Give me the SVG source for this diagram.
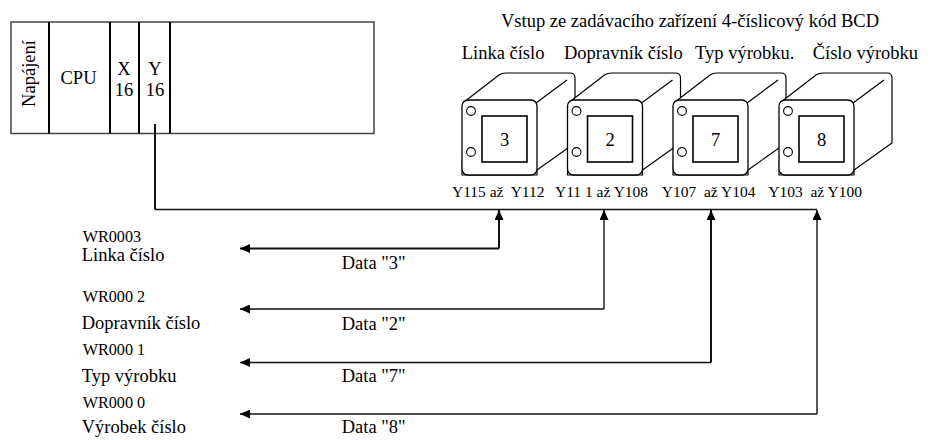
<svg xmlns="http://www.w3.org/2000/svg" width="933" height="440" viewBox="0 0 933 440">
  <style>
    text { font-family: "Liberation Serif", "Times New Roman", serif; fill: #000; }
    .t { font-size: 18.5px; }
    .wr { font-size: 16.2px; }
    .addr { font-size: 15.5px; }
    .digit { font-size: 18.5px; text-anchor: middle; }
    .frame { fill: #fff; stroke: #444; stroke-width: 1.5; }
    .div { stroke: #000; stroke-width: 2; }
    .body { fill: #fff; stroke: #000; stroke-width: 1.2; stroke-linejoin: round; }
    .face { fill: #fff; stroke: #000; stroke-width: 1.3; }
    .win { fill: #fff; stroke: #000; stroke-width: 1.6; }
    .hole { fill: #fff; stroke: #000; stroke-width: 1.1; }
    .wire { fill: none; stroke: #111; stroke-width: 1.4; }
    .wire.heavy { stroke-width: 2; }
  </style>
  <defs>
    <marker id="arrow" viewBox="0 0 10 9" refX="10" refY="4.5" markerWidth="10" markerHeight="9" markerUnits="userSpaceOnUse" orient="auto">
      <path d="M0,0 L10,4.5 L0,9 Z" fill="#000"/>
    </marker>
    <!-- thumbwheel switch body: back silhouette, edge line, front face, window and holes -->
    <g id="switch">
      <path class="body" d="M2,102 L37,75 Q40,73 44,73 L108,73 Q113,73 113,78 L113,143 L75,170 L75,175 L0,175 Z"/>
      <line x1="74" y1="103" x2="105" y2="80" stroke="#000" stroke-width="1.2"/>
      <rect class="face" x="0" y="100" width="75" height="75" rx="6"/>
      <rect class="win" x="20" y="116" width="45" height="46"/>
      <circle class="hole" cx="9" cy="111" r="4.4"/>
      <circle class="hole" cx="9" cy="152" r="4.4"/>
    </g>
  </defs>

  <!-- PLC rack -->
  <g id="plc">
    <rect class="frame" x="11" y="22" width="363" height="111.5"/>
    <line class="div" x1="49" y1="22" x2="49" y2="133.5"/>
    <line class="div" x1="110" y1="22" x2="110" y2="133.5"/>
    <line class="div" x1="139" y1="22" x2="139" y2="133.5"/>
    <line class="div" x1="170" y1="22" x2="170" y2="133.5"/>
    <text class="t" transform="translate(35,73.5) rotate(-90)" text-anchor="middle">Napájení</text>
    <text class="t" x="78.5" y="84" text-anchor="middle">CPU</text>
    <text class="t" x="124" y="75" text-anchor="middle">X</text>
    <text class="t" x="124" y="96" text-anchor="middle">16</text>
    <text class="t" x="155" y="75" text-anchor="middle">Y</text>
    <text class="t" x="155" y="96" text-anchor="middle">16</text>
  </g>

  <!-- input device header -->
  <g id="header">
    <text class="t" x="690" y="27" text-anchor="middle">Vstup ze zadávacího zařízení 4-číslicový kód BCD</text>
    <text class="t" x="461.7" y="59">Linka číslo</text>
    <text class="t" x="564" y="59">Dopravník číslo</text>
    <text class="t" x="695" y="59">Typ výrobku.</text>
    <text class="t" x="812.7" y="59">Číslo výrobku</text>
  </g>

  <!-- thumbwheel switches -->
  <g id="sw-line">
    <use href="#switch" transform="translate(462,0)"/>
    <text class="digit" x="504.5" y="146">3</text>
    <text class="addr" x="452" y="197" xml:space="preserve">Y115 až  Y112</text>
  </g>
  <g id="sw-conveyor">
    <use href="#switch" transform="translate(567.5,0)"/>
    <text class="digit" x="610" y="146">2</text>
    <text class="addr" x="555" y="197" xml:space="preserve">Y11 1 až Y108</text>
  </g>
  <g id="sw-type">
    <use href="#switch" transform="translate(673,0)"/>
    <text class="digit" x="715.5" y="146">7</text>
    <text class="addr" x="661.7" y="197" xml:space="preserve">Y107  až Y104</text>
  </g>
  <g id="sw-product">
    <use href="#switch" transform="translate(779,0)"/>
    <text class="digit" x="821.5" y="146">8</text>
    <text class="addr" x="768.3" y="197" xml:space="preserve">Y103  až Y100</text>
  </g>

  <!-- data registers -->
  <g id="wr3">
    <text class="wr" x="82.7" y="241.5">WR0003</text>
    <text class="t" x="81.7" y="261">Linka číslo</text>
  </g>
  <g id="wr2">
    <text class="wr" x="82.7" y="301.7">WR000 2</text>
    <text class="t" x="81.7" y="329.3">Dopravník číslo</text>
  </g>
  <g id="wr1">
    <text class="wr" x="82.7" y="355">WR000 1</text>
    <text class="t" x="81.7" y="381.7">Typ výrobku</text>
  </g>
  <g id="wr0">
    <text class="wr" x="82.7" y="408.3">WR000 0</text>
    <text class="t" x="81.7" y="433.3">Výrobek číslo</text>
  </g>

  <!-- connectors -->
  <g id="connectors">
    <path class="wire heavy" d="M155,124 V209.5"/>
    <path class="wire" d="M155,209.5 H817"/>

    <path class="wire heavy" d="M499,248.5 V210" marker-end="url(#arrow)"/>
    <path class="wire heavy" d="M499,248.5 H240" marker-end="url(#arrow)"/>

    <path class="wire" d="M604,309 V210" marker-end="url(#arrow)"/>
    <path class="wire" d="M604,309 H240" marker-end="url(#arrow)"/>

    <path class="wire heavy" d="M711,362.5 V210" marker-end="url(#arrow)"/>
    <path class="wire" d="M711,362.5 H240" marker-end="url(#arrow)"/>

    <path class="wire" d="M817,414 V210" marker-end="url(#arrow)"/>
    <path class="wire" d="M817,414 H240" marker-end="url(#arrow)"/>
  </g>

  <!-- data labels -->
  <g id="data-labels">
    <text class="t" x="341.7" y="269">Data "3"</text>
    <text class="t" x="341.7" y="330">Data "2"</text>
    <text class="t" x="341.7" y="381.7">Data "7"</text>
    <text class="t" x="341.7" y="433.3">Data "8"</text>
  </g>
</svg>
